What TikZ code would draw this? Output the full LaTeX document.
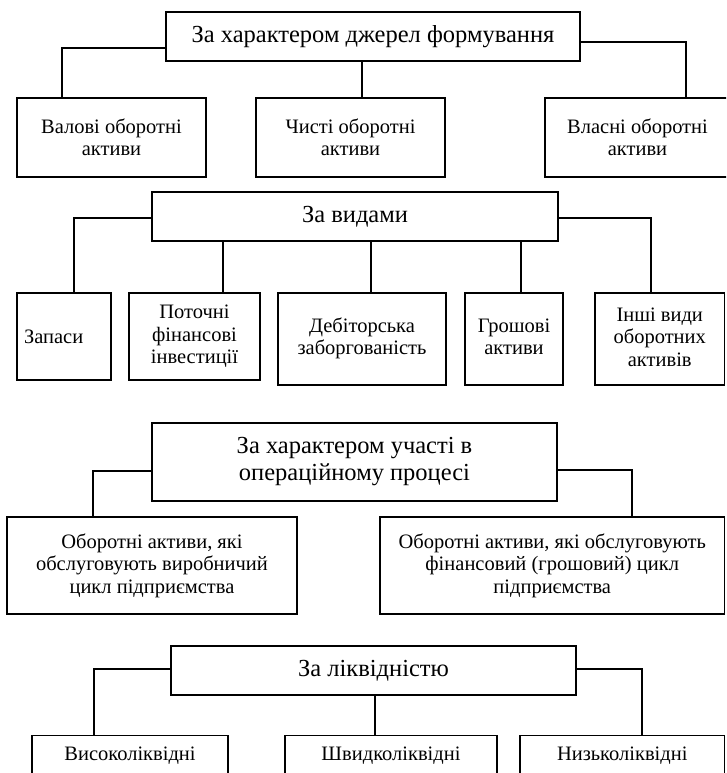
\documentclass[tikz,border=0pt]{standalone}
\usepackage{fontspec}
\setmainfont{Liberation Serif}
\newcommand{\lowstack}[2]{\raisebox{#1}{\begin{tabular}{@{}c@{}}#2\end{tabular}}}
\begin{document}
\begin{tikzpicture}[x=1pt,y=-1pt,
  box/.style={draw, line width=1.1pt, rectangle, inner sep=2pt, align=center,
     font=\fontsize{20.5}{22.5}\selectfont},
  title/.style={draw, line width=1.1pt, rectangle, inner sep=2pt, align=center,
     font=\fontsize{24.5}{27}\selectfont},
  conn/.style={line width=1.1pt}]
\useasboundingbox (0,0) rectangle (726,773);
\clip (0,0) rectangle (726,773);
% Section 1
\node[title, minimum width=414pt, minimum height=49pt] (T1) at (373,36.5) {За характером джерел формування};
\node[box, minimum width=189pt, minimum height=79pt] (B1a) at (111.5,137.5) {Валові оборотні\\активи};
\node[box, minimum width=189pt, minimum height=79pt] (B1b) at (350.5,137.5) {Чисті оборотні\\активи};
\node[box, minimum width=185pt, minimum height=79pt] (B1c) at (637.5,137.5) {Власні оборотні\\активи};
\draw[conn] ([yshift=-11.5pt]T1.west) -| ([xshift=-49.5pt]B1a.north);
\draw[conn] ([yshift=-5.5pt]T1.east) -| ([xshift=48.5pt]B1c.north);
\draw[conn] ([xshift=-11pt]T1.south) -- ([xshift=11.5pt]B1b.north);
% Section 2
\node[title, minimum width=406pt, minimum height=49pt] (T2) at (355,216.5) {За видами};
\node[box, minimum width=94pt, minimum height=87pt, text width=80pt, align=left] (B2a) at (64,336.5) {Запаси};
\node[box, minimum width=131pt, minimum height=87pt] (B2b) at (194.5,336.5) {Поточні\\фінансові\\інвестиції};
\node[box, minimum width=168pt, minimum height=92pt] (B2c) at (362,339) {\lowstack{-7pt}{Дебіторська\\заборгованість}};
\node[box, minimum width=98pt, minimum height=92pt] (B2d) at (514,339) {\lowstack{-7pt}{Грошові\\активи}};
\node[box, minimum width=129.5pt, minimum height=92pt] (B2e) at (659.75,339) {\lowstack{3pt}{Інші види\\оборотних\\активів}};
\draw[conn] ([yshift=-1.5pt]T2.west) -| ([xshift=10pt]B2a.north);
\draw[conn] ([yshift=-1.5pt]T2.east) -| ([xshift=-8.75pt]B2e.north);
\draw[conn] (T2.south -| B2b.north) ++(28.5,0) -- ([xshift=28.5pt]B2b.north);
\draw[conn] (T2.south -| B2c.north) ++(9,0) -- ([xshift=9pt]B2c.north);
\draw[conn] (T2.south -| B2d.north) ++(7,0) -- ([xshift=7pt]B2d.north);
% Section 3
\node[title, minimum width=405pt, minimum height=78pt] (T3) at (354.5,462) {За характером участі в\\операційному процесі};
\node[box, minimum width=290pt, minimum height=97pt] (B3a) at (152,565.5) {Оборотні активи, які\\обслуговують виробничий\\цикл підприємства};
\node[box, minimum width=344.5pt, minimum height=97pt] (B3b) at (552.25,565.5) {Оборотні активи, які обслуговують\\фінансовий (грошовий) цикл\\підприємства};
\draw[conn] ([yshift=-9pt]T3.west) -| ([xshift=-59pt]B3a.north);
\draw[conn] ([yshift=-8pt]T3.east) -| ([xshift=79.75pt]B3b.north);
% Section 4
\node[title, minimum width=405pt, minimum height=49pt] (T4) at (373.5,670.5) {За ліквідністю};
\node[box, anchor=north, minimum width=196pt, text height=21pt, text depth=40pt, inner ysep=4pt] (B4a) at (130,735) {Високоліквідні};
\node[box, anchor=north, minimum width=212pt, text height=21pt, text depth=40pt, inner ysep=4pt] (B4b) at (391,735) {Швидколіквідні};
\node[box, anchor=north, minimum width=204.5pt, text height=21pt, text depth=40pt, inner ysep=4pt] (B4c) at (622.25,735) {Низьколіквідні};
\draw[conn] ([yshift=1.5pt]T4.west) -| ([xshift=-36pt]B4a.north);
\draw[conn] ([yshift=1.5pt]T4.east) -| ([xshift=19.75pt]B4c.north);
\draw[conn] (T4.south -| B4b.north) ++(-16,0) -- ([xshift=-16pt]B4b.north);
\end{tikzpicture}
\end{document}
